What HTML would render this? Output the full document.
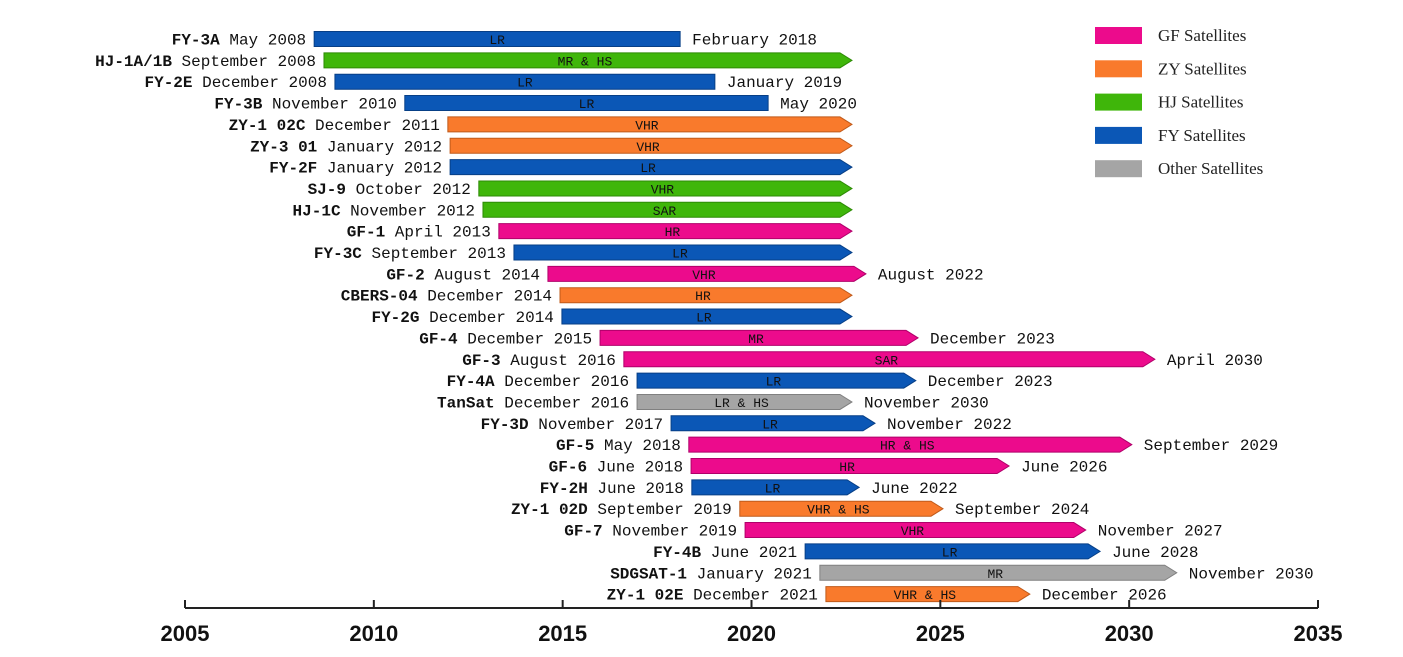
<!DOCTYPE html>
<html><head><meta charset="utf-8"><style>
body{margin:0;background:#fff}
svg text{font-family:"Liberation Mono",monospace}
</style></head><body>
<svg id="chart" width="1403" height="652" xmlns="http://www.w3.org/2000/svg"></svg>
<script>
const names=["FY-3A","HJ-1A/1B","FY-2E","FY-3B","ZY-1 02C","ZY-3 01","FY-2F","SJ-9","HJ-1C","GF-1","FY-3C","GF-2","CBERS-04","FY-2G","GF-4","GF-3","FY-4A","TanSat","FY-3D","GF-5","GF-6","FY-2H","ZY-1 02D","GF-7","FY-4B","SDGSAT-1","ZY-1 02E"];
const launchLabels=["May 2008","September 2008","December 2008","November 2010","December 2011","January 2012","January 2012","October 2012","November 2012","April 2013","September 2013","August 2014","December 2014","December 2014","December 2015","August 2016","December 2016","December 2016","November 2017","May 2018","June 2018","June 2018","September 2019","November 2019","June 2021","January 2021","December 2021"];
const endLabels=["February 2018","","January 2019","May 2020","","","","","","","","August 2022","","","December 2023","April 2030","December 2023","November 2030","November 2022","September 2029","June 2026","June 2022","September 2024","November 2027","June 2028","November 2030","December 2026"];
const startYears=[2008.42,2008.68,2008.97,2010.82,2011.96,2012.02,2012.02,2012.78,2012.89,2013.31,2013.71,2014.61,2014.93,2014.98,2015.99,2016.62,2016.97,2016.97,2017.87,2018.34,2018.40,2018.42,2019.69,2019.83,2021.42,2021.81,2021.97];
const endYears=[2018.11,2022.66,2019.03,2020.44,2022.66,2022.66,2022.66,2022.66,2022.66,2022.66,2022.66,2023.03,2022.66,2022.66,2024.41,2030.68,2024.35,2022.66,2023.27,2030.07,2026.82,2022.85,2025.07,2028.85,2029.23,2031.26,2027.37];
const groups=["FY","HJ","FY","FY","ZY","ZY","FY","HJ","HJ","GF","FY","GF","ZY","FY","GF","GF","FY","Other","FY","GF","GF","FY","ZY","GF","FY","Other","ZY"];
const sensors=["LR","MR & HS","LR","LR","VHR","VHR","LR","VHR","SAR","HR","LR","VHR","HR","LR","MR","SAR","LR","LR & HS","LR","HR & HS","HR","LR","VHR & HS","VHR","LR","MR","VHR & HS"];
const hasArrow=[0,1,0,0,1,1,1,1,1,1,1,1,1,1,1,1,1,1,1,1,1,1,1,1,1,1,1];
const legendKeys=["GF","ZY","HJ","FY","Other"];
const legendLabels=["GF Satellites","ZY Satellites","HJ Satellites","FY Satellites","Other Satellites"];
const ticks=[2005,2010,2015,2020,2025,2030,2035];
const colors={GF:"#ec0b8c",ZY:"#f97a2c",HJ:"#3fb60a",FY:"#0b57b6",Other:"#a5a5a5"};
const strokes={GF:"#b0006a",ZY:"#c05a1a",HJ:"#2d8a05",FY:"#073f86",Other:"#808080"};

const svg=document.getElementById('chart');
const NS="http://www.w3.org/2000/svg";
const x=y=>185+(y-2005)*(1318-185)/30;
const rowY=i=>39+i*21.35;
function el(t,a,p){const e=document.createElementNS(NS,t);for(const k in a)e.setAttribute(k,a[k]);(p||svg).appendChild(e);return e;}

names.forEach((n,i)=>{
  const cy=rowY(i),x0=x(startYears[i]),x1=x(endYears[i]),h=15;
  const g=el('g',{});
  
  
  let d;
  if(hasArrow[i]){const b=x1-12;d=`M${x0},${cy-h/2}L${b},${cy-h/2}L${x1},${cy}L${b},${cy+h/2}L${x0},${cy+h/2}Z`;}
  else d=`M${x0},${cy-h/2}L${x1},${cy-h/2}L${x1},${cy+h/2}L${x0},${cy+h/2}Z`;
  el('path',{d,fill:colors[groups[i]],stroke:strokes[groups[i]],'stroke-width':1},g);
  const st=el('text',{x:(x0+x1-(hasArrow[i]?6:0))/2,y:cy+5,'font-size':13,'text-anchor':'middle',fill:'#111'},g);
  st.textContent=sensors[i];
  const lt=el('text',{x:x0-8,y:cy+5.5,'font-size':16,'text-anchor':'end',fill:'#111'});
  
  
  const b=el('tspan',{'font-weight':'bold'},lt);b.textContent=n;
  const s=el('tspan',{},lt);s.textContent=' '+launchLabels[i];
  if(endLabels[i]){
    const et=el('text',{x:x1+12,y:cy+5.5,'font-size':16,fill:'#111'});
    
    
    et.textContent=endLabels[i];
  }
});

const ax=el('line',{x1:x(2005),x2:x(2035),y1:608,y2:608,stroke:'#222','stroke-width':2});


ticks.forEach(t=>{
  el('line',{x1:x(t),x2:x(t),y1:600,y2:608,stroke:'#222','stroke-width':2});
  const tl=el('text',{x:x(t),y:641,'font-size':22,'font-weight':'bold','text-anchor':'middle',fill:'#111',style:'font-family:"Liberation Sans",sans-serif'});
  
  
  tl.textContent=t;
});

legendKeys.forEach((k,i)=>{
  const y=35+i*33.3;
  const g=el('g',{});
  
  
  el('rect',{x:1095,y:y-8,width:47,height:17,fill:colors[k]},g);
  const t=el('text',{x:1158,y:y+6,'font-size':17,fill:'#222',style:'font-family:"Liberation Serif",serif'},g);
  t.textContent=legendLabels[i];
});
</script>
</body></html>
